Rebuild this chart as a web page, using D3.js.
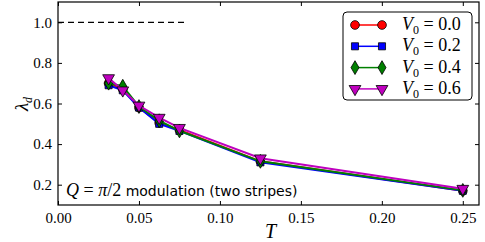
<!DOCTYPE html>
<html>
<head>
<meta charset="utf-8">
<script src="https://cdn.jsdelivr.net/npm/d3@7"></script>
<style>
body { margin: 0; background: #fff; }
svg text { fill: #000; }
</style>
</head>
<body>
<svg id="chart"></svg>
<script>
// temperatures
const temps = [0.03125, 0.04, 0.05, 0.0625, 0.075, 0.125, 0.25]
// lambda_d for each V0
const v00 = [0.70, 0.67, 0.58, 0.505, 0.47, 0.315, 0.17]
const v02 = [0.69, 0.665, 0.58, 0.50, 0.465, 0.31, 0.17]
const v04 = [0.70, 0.685, 0.585, 0.515, 0.465, 0.315, 0.172]
const v06 = [0.725, 0.665, 0.59, 0.53, 0.48, 0.33, 0.18]
const seriesNames = ['0.0', '0.2', '0.4', '0.6']
const xTicks = [0, 0.05, 0.1, 0.15, 0.2, 0.25]
const yTicks = [0.2, 0.4, 0.6, 0.8, 1.0]
const refLine = { t0: 0, t1: 0.078, value: 1.0 }

let w = 485, h = 242
let m = { l: 58, r: 479, t: 2, b: 205 }
const serif = "'Liberation Serif', 'Times New Roman', serif"

let scX = d3.scaleLinear().domain([0, 0.26]).range([m.l, m.r])
let scY = d3.scaleLinear().domain([0.1, 1.1]).range([m.b, m.t])

let svg = d3.select('#chart').attr('width', w).attr('height', h)

let series = [
	{ vals: v00, color: '#ff0000', shape: d3.symbolCircle, size: 60, rot: 0 },
	{ vals: v02, color: '#0000ff', shape: d3.symbolSquare, size: 50, rot: 0 },
	{ vals: v04, color: '#008000', shape: d3.symbolDiamond, size: 55, rot: 0 },
	{ vals: v06, color: '#bf00bf', shape: d3.symbolTriangle, size: 60, rot: 180 }
]

// axes with inward ticks on all sides
const fx = d3.format('.2f'), fy = d3.format('.1f')
svg.append('g').attr('transform', `translate(0,${m.b})`)
	.call(d3.axisBottom(scX).tickValues(xTicks).tickFormat(fx).tickSizeInner(-4).tickSizeOuter(0).tickPadding(7))
svg.append('g').attr('transform', `translate(0,${m.t})`)
	.call(d3.axisTop(scX).tickValues(xTicks).tickFormat('').tickSizeInner(-4).tickSizeOuter(0))
svg.append('g').attr('transform', `translate(${m.l},0)`)
	.call(d3.axisLeft(scY).tickValues(yTicks).tickFormat(fy).tickSizeInner(-4).tickSizeOuter(0).tickPadding(6))
svg.append('g').attr('transform', `translate(${m.r},0)`)
	.call(d3.axisRight(scY).tickValues(yTicks).tickFormat('').tickSizeInner(-4).tickSizeOuter(0))
svg.selectAll('.domain').remove()
svg.selectAll('.tick line').attr('stroke', '#000')
svg.selectAll('.tick text')
	.attr('font-family', null).attr('font-size', null)
	.style('font-family', serif).style('font-size', '15px')

svg.append('rect')
	.attr('x', m.l).attr('y', m.t)
	.attr('width', m.r - m.l).attr('height', m.b - m.t)
	.attr('fill', 'none').attr('stroke', '#000').attr('stroke-width', 1.2)

// reference dashed line
svg.append('line')
	.attr('x1', scX(refLine.t0)).attr('x2', scX(refLine.t1))
	.attr('y1', scY(refLine.value)).attr('y2', scY(refLine.value))
	.attr('stroke', '#000').attr('stroke-width', 1.2).attr('stroke-dasharray', '6,4')

let line = d3.line().x(d => scX(d[0])).y(d => scY(d[1]))

series.forEach(s => {
	let pts = temps.map((t, i) => [t, s.vals[i]])
	svg.append('path').datum(pts)
		.attr('d', line).attr('fill', 'none')
		.attr('stroke', s.color).attr('stroke-width', 2)
	svg.append('g').selectAll('path')
		.data(pts).enter().append('path')
		.attr('d', d3.symbol().type(s.shape).size(s.size))
		.attr('transform', d => `translate(${scX(d[0])},${scY(d[1])}) rotate(${s.rot})`)
		.attr('fill', s.color).attr('stroke', '#000').attr('stroke-width', 0.8)
})

// legend
let lg = svg.append('g')
lg.append('rect').attr('x', 343).attr('y', 12).attr('width', 129).attr('height', 88)
	.attr('rx', 4).attr('fill', '#fff').attr('stroke', '#000').attr('stroke-width', 1)
series.forEach((s, i) => {
	let y = 25 + i * 21.3
	lg.append('line').attr('x1', 355).attr('x2', 382).attr('y1', y).attr('y2', y)
		.attr('stroke', s.color).attr('stroke-width', 1.5)
	;[355, 382].forEach(x => {
		lg.append('path').attr('d', d3.symbol().type(s.shape).size(s.size)())
			.attr('transform', `translate(${x},${y}) rotate(${s.rot})`)
			.attr('fill', s.color).attr('stroke', '#000').attr('stroke-width', 0.8)
	})
	let t = lg.append('text').attr('x', 402).attr('y', y + 5)
		.style('font-family', serif).style('font-size', '18px')
	t.append('tspan').style('font-style', 'italic').text('V')
	t.append('tspan').attr('dy', 4).style('font-size', '12px').text('0')
	t.append('tspan').attr('dy', -4).text(' = ' + seriesNames[i])
})

// annotation
let an = svg.append('text').attr('x', 66).attr('y', 196)
an.append('tspan').style('font-family', serif).style('font-style', 'italic').style('font-size', '18px').text('Q')
an.append('tspan').style('font-family', serif).style('font-size', '18px').text(' = ')
an.append('tspan').style('font-family', serif).style('font-style', 'italic').style('font-size', '18px').text('π')
an.append('tspan').style('font-family', serif).style('font-size', '18px').text('/2')
an.append('tspan').style('font-family', "'DejaVu Sans', sans-serif").style('font-size', '14px').text(' modulation (two stripes)')

// axis labels
svg.append('text').attr('x', (m.l + m.r) / 2 + 2).attr('y', 238)
	.attr('text-anchor', 'middle')
	.style('font-family', serif).style('font-style', 'italic').style('font-size', '20px')
	.text('T')
let yl = svg.append('text').attr('transform', 'translate(28,104) rotate(-90)')
	.attr('text-anchor', 'middle')
	.style('font-family', serif).style('font-size', '19px')
yl.append('tspan').style('font-style', 'italic').text('λ')
yl.append('tspan').attr('dy', 4).style('font-size', '12px').style('font-style', 'italic').text('d')
</script>
</body>
</html>
